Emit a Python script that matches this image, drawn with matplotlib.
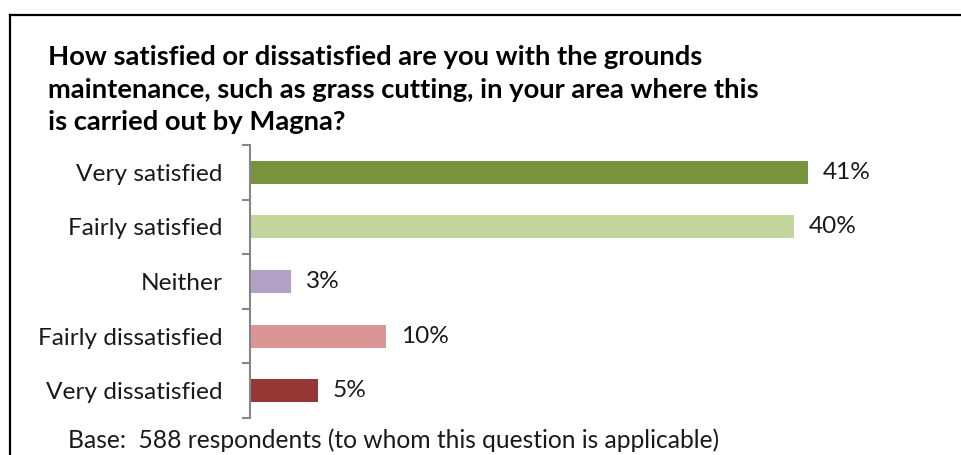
import matplotlib.pyplot as plt
from matplotlib.lines import Line2D

# Satisfaction with grounds maintenance (percent of respondents)
categories = ['Very satisfied', 'Fairly satisfied', 'Neither',
              'Fairly dissatisfied', 'Very dissatisfied']
values = [41, 40, 3, 10, 5]
colors = ['#77933C', '#C3D69B', '#B3A2C7', '#D99694', '#953735']

title_lines = ['How satisfied or dissatisfied are you with the grounds',
               'maintenance, such as grass cutting, in your area where this',
               'is carried out by Magna?']
base_note = 'Base:  588 respondents (to whom this question is applicable)'

plt.rcParams['font.family'] = ['Lato', 'DejaVu Sans']
txt = '#1a1a1a'

fig = plt.figure(figsize=(9.62, 4.55), dpi=100)
ax = fig.add_axes([250 / 962, 37 / 455, 680 / 962, 273 / 455])

pos = list(range(len(categories)))
ax.barh(pos, values, height=0.42, color=colors)
ax.set_ylim(len(categories) - 0.5, -0.5)
ax.set_xlim(0, 50)

for p, v in zip(pos, values):
    ax.text(v + 1.1, p, f'{v}%', va='center', ha='left', fontsize=17.6,
            color=txt)

# category labels at bar centres, ticks at the boundaries
ax.set_yticks(pos)
ax.set_yticklabels(categories, fontsize=17.6, color=txt)
ax.tick_params(axis='y', which='major', length=0, pad=19.5)
ax.set_yticks([p - 0.5 for p in pos] + [len(pos) - 0.5], minor=True)
ax.tick_params(axis='y', which='minor', length=6, width=1.5, color='#868686')
ax.set_xticks([])

for side in ['top', 'right', 'bottom']:
    ax.spines[side].set_visible(False)
ax.spines['left'].set_color('#868686')
ax.spines['left'].set_linewidth(1.5)

for i, line in enumerate(title_lines):
    fig.text(48 / 962, 1 - (65 + 32.5 * i) / 455, line, fontsize=19.7,
             fontweight='bold', ha='left', va='baseline', color='black')
fig.text(68 / 962, 1 - 440 / 455, base_note, fontsize=17.7, ha='left',
         va='center', color=txt)

# outer frame (top and left edges)
fig.add_artist(Line2D([10 / 962, 1], [1 - 15 / 455, 1 - 15 / 455],
                      transform=fig.transFigure, color='black', lw=1.6))
fig.add_artist(Line2D([10 / 962, 10 / 962], [0, 1 - 15 / 455],
                      transform=fig.transFigure, color='black', lw=1.6))

fig.savefig('out.png', dpi=100)
